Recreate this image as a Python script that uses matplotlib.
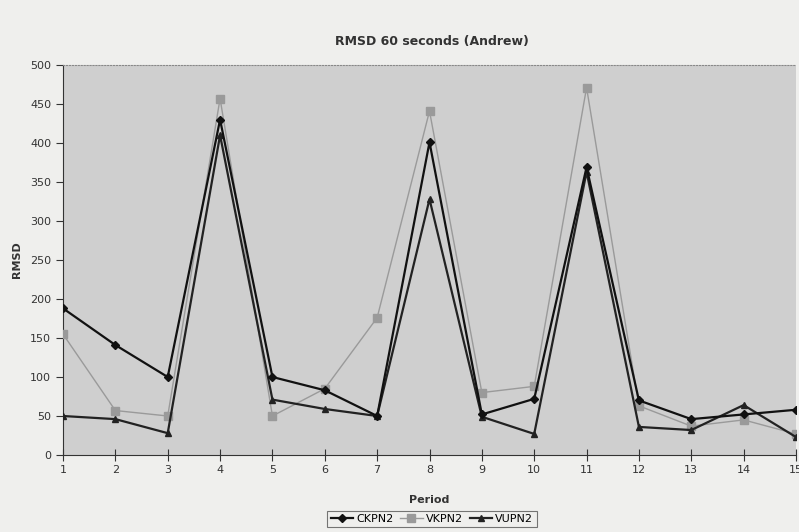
import matplotlib.pyplot as plt
import numpy as np

periods = list(range(1, 16))
ckpn2 = [188, 141, 100, 430, 100, 83, 50, 401, 52, 72, 369, 70, 46, 52, 58]
vkpn2 = [155, 57, 50, 457, 50, 85, 176, 441, 80, 88, 471, 63, 37, 45, 27]
vupn2 = [50, 46, 28, 410, 71, 59, 50, 328, 49, 27, 363, 36, 32, 64, 23]

W, H = 799, 532
fig = plt.figure(figsize=(W / 100, H / 100), dpi=100)
fig.patch.set_facecolor('#efefed')

ax = fig.add_axes([63 / W, (H - 455) / H, (796 - 63) / W, 390 / H])
ax.set_facecolor('#cfcfcf')

ax.plot(periods, vkpn2, '-s', color='#9a9a9a', markersize=6, linewidth=1.0,
        label='VKPN2', zorder=3)
ax.plot(periods, vupn2, '-^', color='#222222', markersize=5, linewidth=1.6,
        label='VUPN2', zorder=4)
ax.plot(periods, ckpn2, '-D', color='#111111', markersize=4, linewidth=1.6,
        label='CKPN2', zorder=5)

ax.set_xlim(1, 15)
ax.set_ylim(0, 500)
ax.set_xticks(periods)
ax.set_yticks(np.arange(0, 501, 50))
ax.tick_params(axis='both', labelsize=8, colors='#333333')
ax.tick_params(axis='x', direction='inout', length=8)
ax.tick_params(axis='y', direction='out', length=5)

for side in ['top', 'right']:
    ax.spines[side].set_linestyle(':')
    ax.spines[side].set_color('#888888')
ax.spines['right'].set_visible(False)
ax.spines['left'].set_color('#333333')
ax.spines['bottom'].set_color('#333333')

ax.set_ylabel('RMSD', fontsize=8, fontweight='bold', color='#333333', labelpad=6)
ax.set_xlabel('Period', fontsize=8, fontweight='bold', color='#333333', labelpad=14)
fig.text(0.54, 1 - 42 / H, 'RMSD 60 seconds (Andrew)', ha='center', va='center',
         fontsize=9, fontweight='bold', color='#333333')

handles, labels = ax.get_legend_handles_labels()
order = [2, 0, 1]
leg = fig.legend([handles[i] for i in order], [labels[i] for i in order],
                 loc='center', bbox_to_anchor=(432 / W, 1 - 519 / H), ncol=3,
                 fontsize=8, frameon=True, fancybox=False, handlelength=2.0,
                 columnspacing=0.6, handletextpad=0.3, borderpad=0.3)
leg.get_frame().set_edgecolor('#555555')
leg.get_frame().set_facecolor('#efefed')
leg.get_frame().set_linewidth(0.8)

fig.savefig('out.png', dpi=100)
